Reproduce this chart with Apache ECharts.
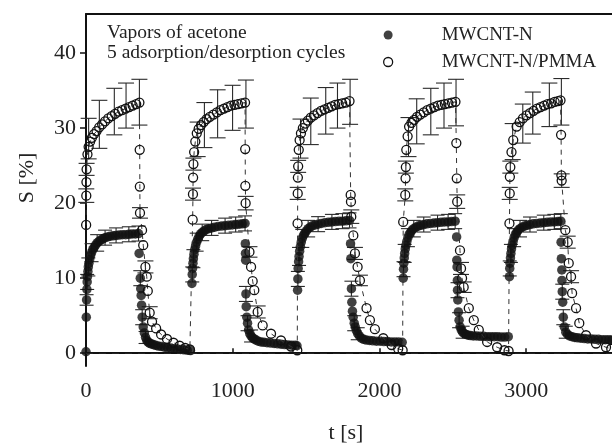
<!DOCTYPE html>
<html>
<head>
<meta charset="utf-8">
<script src="https://cdn.jsdelivr.net/npm/echarts@6/dist/echarts.min.js"></script>
<style>
  html, body { margin: 0; padding: 0; background: #fff; }
  #chart { width: 612px; height: 445px; }
</style>
</head>
<body>
<div id="chart"></div>
<script>
// MWCNT-N (filled circles), [t, S] per cycle
const solidC1 = [[0,0.2],[2,4.8],[4,7.1],[6,8.5],[8,9.5],[10,10.2],[13,10.9],[16,11.5],[20,12.0],[25,12.5],[31,13.0],[38,13.4],[46,13.8],[55,14.1],[65,14.4],[76,14.7],[88,14.9],[101,15.1],[115,15.25],[130,15.4],[147,15.5],[165,15.6],[185,15.65],[205,15.7],[226,15.75],[248,15.8],[270,15.8],[292,15.85],[314,15.9],[336,15.9],[358,15.95],
  [362,13.3],[370,10.0],[373,8.6],[376,7.7],[379,6.4],[383,4.8],[390,3.5],[398,2.7],[406,2.1],[414,1.7],[422,1.5],[432,1.35],[444,1.25],[458,1.15],[474,1.05],[492,0.95],[512,0.9],[534,0.8],[556,0.75],[578,0.7],[600,0.6],[622,0.55],[645,0.5],[668,0.45],[690,0.4],[712,0.35]];
const solidC2 = [[722,9.3],[724,10.5],[726,11.3],[729,12.0],[732,12.6],[736,13.2],[741,13.8],[747,14.3],[754,14.8],[762,15.2],[771,15.6],[781,15.9],[792,16.1],[805,16.3],[820,16.5],[837,16.6],[856,16.7],[877,16.8],[900,16.9],[924,16.95],[948,17.0],[972,17.05],[996,17.1],[1020,17.15],[1044,17.2],[1066,17.25],[1084,17.3],
  [1086,14.6],[1087,13.3],[1088,12.4],[1090,7.9],[1092,6.2],[1096,4.8],[1101,4.0],[1108,3.1],[1116,2.6],[1125,2.3],[1135,2.05],[1146,1.9],[1159,1.75],[1174,1.6],[1192,1.5],[1212,1.45],[1234,1.4],[1258,1.35],[1282,1.3],[1306,1.25],[1330,1.2],[1354,1.15],[1378,1.1],[1402,1.08],[1426,1.05],[1438,1.0]];
const solidC3 = [[1442,8.4],[1444,9.9],[1446,11.3],[1449,12.2],[1452,12.9],[1456,13.6],[1461,14.2],[1467,14.8],[1474,15.3],[1482,15.7],[1491,16.0],[1502,16.3],[1514,16.6],[1528,16.8],[1544,17.0],[1562,17.1],[1582,17.2],[1604,17.3],[1628,17.4],[1652,17.45],[1676,17.5],[1700,17.55],[1724,17.6],[1748,17.6],[1772,17.65],[1796,17.7],
  [1803,14.6],[1805,12.6],[1809,8.6],[1812,6.8],[1816,5.6],[1821,4.8],[1828,4.0],[1835,3.5],[1843,3.0],[1852,2.6],[1863,2.3],[1876,2.0],[1892,1.85],[1910,1.75],[1932,1.7],[1955,1.65],[1980,1.6],[2005,1.6],[2030,1.55],[2055,1.55],[2080,1.5],[2105,1.5],[2130,1.5],[2155,1.45]];
const solidC4 = [[2162,10.0],[2164,11.2],[2166,12.0],[2169,12.7],[2172,13.3],[2176,13.9],[2181,14.4],[2187,14.9],[2194,15.4],[2202,15.8],[2211,16.1],[2222,16.4],[2234,16.6],[2248,16.8],[2264,16.95],[2282,17.05],[2302,17.15],[2324,17.25],[2348,17.3],[2372,17.35],[2396,17.4],[2420,17.45],[2444,17.5],[2468,17.5],[2492,17.55],[2516,17.6],
  [2526,15.5],[2527,12.4],[2529,11.5],[2531,9.7],[2532,8.4],[2534,7.1],[2538,5.5],[2543,4.4],[2550,3.5],[2558,3.1],[2567,2.8],[2578,2.6],[2590,2.5],[2604,2.4],[2620,2.35],[2640,2.3],[2662,2.3],[2686,2.25],[2710,2.25],[2734,2.2],[2758,2.2],[2782,2.2],[2806,2.2],[2830,2.15],[2854,2.15],[2878,2.2]];
const solidC5 = [[2886,10.2],[2888,11.3],[2890,12.0],[2893,12.7],[2896,13.3],[2900,13.9],[2905,14.4],[2911,14.9],[2918,15.4],[2926,15.8],[2935,16.1],[2946,16.4],[2958,16.6],[2972,16.8],[2988,16.95],[3006,17.05],[3026,17.15],[3048,17.25],[3072,17.3],[3096,17.35],[3120,17.4],[3144,17.45],[3168,17.5],[3192,17.5],[3216,17.55],[3236,17.6],
  [3238,14.8],[3240,12.6],[3243,11.1],[3244,9.7],[3246,8.2],[3249,6.8],[3253,4.8],[3260,3.5],[3270,2.8],[3282,2.5],[3296,2.3],[3312,2.2],[3330,2.1],[3350,2.05],[3372,2.0],[3396,1.95],[3420,1.9],[3444,1.9],[3468,1.85],[3492,1.85],[3516,1.8],[3540,1.8],[3564,1.8],[3584,1.75]];

// MWCNT-N/PMMA (open circles), [t, S] per cycle
const openC1 = [[1,17.1],[2,21.0],[3,22.8],[4,24.5],[10,26.5],[18,27.5],[28,28.2],[40,28.7],[55,29.2],[72,29.6],[90,30.1],[110,30.5],[130,30.9],[152,31.3],[175,31.6],[198,31.9],[222,32.2],[246,32.4],[270,32.6],[294,32.8],[318,33.0],[342,33.2],[364,33.4],
  [366,27.1],[367,22.2],[368,18.7],[382,16.4],[390,14.4],[405,11.5],[414,10.2],[421,8.3],[434,5.4],[450,4.2],[478,3.3],[512,2.5],[552,1.9],[596,1.4],[638,1.0],[676,0.7],[708,0.5]];
const openC2 = [[727,17.8],[729,21.2],[730,23.4],[732,25.2],[737,26.8],[745,28.2],[755,29.3],[768,29.9],[784,30.4],[802,30.8],[822,31.2],[844,31.5],[868,31.8],[892,32.1],[916,32.4],[940,32.6],[964,32.8],[988,33.0],[1012,33.1],[1036,33.2],[1060,33.3],[1084,33.4],
  [1085,27.2],[1086,22.3],[1088,20.0],[1114,13.5],[1125,11.5],[1136,9.6],[1147,8.4],[1170,5.5],[1204,3.7],[1261,2.6],[1329,1.7],[1397,0.9],[1440,0.4]];
const openC3 = [[1442,17.3],[1443,21.3],[1444,23.4],[1446,24.9],[1450,27.1],[1456,28.4],[1465,29.3],[1478,30.0],[1494,30.6],[1512,31.0],[1532,31.4],[1554,31.7],[1578,32.0],[1602,32.3],[1626,32.5],[1650,32.7],[1674,32.9],[1698,33.1],[1722,33.2],[1746,33.3],[1770,33.4],[1796,33.6],
  [1804,21.1],[1806,20.2],[1808,18.2],[1822,15.7],[1833,13.3],[1851,11.5],[1867,9.7],[1912,6.0],[1935,4.4],[1969,3.2],[2026,2.0],[2083,1.1],[2128,0.6],[2158,0.4]];
const openC4 = [[2162,17.5],[2176,21.1],[2178,23.3],[2180,24.8],[2183,27.1],[2192,28.9],[2202,30.2],[2218,30.7],[2236,31.1],[2256,31.5],[2278,31.8],[2302,32.1],[2326,32.4],[2350,32.6],[2374,32.8],[2398,33.0],[2422,33.1],[2446,33.2],[2470,33.3],[2494,33.4],[2518,33.5],
  [2524,28.0],[2527,23.3],[2530,20.2],[2549,13.7],[2556,11.3],[2563,10.0],[2574,8.8],[2609,6.0],[2643,4.4],[2677,3.1],[2734,1.5],[2802,0.8],[2852,0.4],[2880,0.3]];
const openC5 = [[2886,17.3],[2888,21.3],[2889,23.5],[2892,24.8],[2900,26.8],[2912,28.4],[2935,30.2],[2956,30.8],[2978,31.3],[3002,31.7],[3026,32.0],[3050,32.3],[3074,32.6],[3098,32.8],[3122,33.0],[3146,33.2],[3170,33.3],[3194,33.5],[3216,33.6],[3234,33.7],
  [3238,29.1],[3240,23.7],[3242,23.0],[3267,16.4],[3283,14.8],[3290,12.0],[3306,10.2],[3313,8.0],[3340,6.0],[3362,4.0],[3408,2.4],[3476,1.3],[3544,0.8],[3580,0.6]];

// error bars [t, S, half-width]
const errSolid = [[4,7.1,0.7],[8,9.5,1.0],[16,11.5,1.2],[38,13.4,1.2],[76,14.7,1.1],[130,15.4,1.0],[205,15.7,1.0],[292,15.85,1.0],[358,15.95,1.0],[370,10.0,1.0],[383,4.8,1.0],[406,2.1,0.8],
  [724,10.5,1.0],[732,12.6,1.2],[754,14.8,1.2],[792,16.1,1.1],[856,16.7,1.0],[948,17.0,1.0],[1020,17.15,1.0],[1084,17.3,1.0],[1090,7.9,1.0],[1101,4.0,1.0],[1125,2.3,0.8],
  [1444,9.9,1.0],[1452,12.9,1.2],[1474,15.3,1.2],[1514,16.6,1.1],[1582,17.2,1.0],[1676,17.5,1.0],[1748,17.6,1.0],[1796,17.7,1.0],[1809,8.6,1.0],[1828,4.0,1.0],[1852,2.6,0.8],
  [2164,11.2,1.0],[2172,13.3,1.2],[2194,15.4,1.2],[2234,16.6,1.1],[2302,17.15,1.0],[2396,17.4,1.0],[2468,17.5,1.0],[2516,17.6,1.0],[2532,8.4,1.0],[2543,4.4,1.0],[2567,2.8,0.8],
  [2888,11.3,1.0],[2896,13.3,1.2],[2918,15.4,1.2],[2958,16.6,1.1],[3026,17.15,1.0],[3120,17.4,1.0],[3192,17.5,1.0],[3236,17.6,1.0],[3246,8.2,1.0],[3253,4.8,1.0],[3270,2.8,0.8]];
const errOpen = [[2,21.0,0.9],[4,24.5,0.8],[18,28.6,2.7],[91,30.5,3.2],[193,32.2,3.1],[273,33.0,3.0],[364,33.45,3.05],[368,18.7,0.7],[405,11.5,0.8],[434,5.4,0.8],
  [729,21.2,0.8],[732,25.2,0.8],[761,28.5,2.3],[807,30.4,3.0],[897,31.9,3.2],[999,32.7,3.0],[1090,33.2,3.2],[1088,20.0,0.9],[1114,13.5,0.7],[1170,5.5,0.8],
  [1443,21.3,0.8],[1446,24.9,0.8],[1462,28.6,2.6],[1532,30.9,3.1],[1634,32.3,3.1],[1714,33.0,3.0],[1800,33.5,3.0],[1808,18.2,0.9],[1833,13.3,0.8],[1867,9.7,0.7],
  [2176,21.1,0.8],[2180,24.8,0.8],[2198,28.8,2.6],[2254,30.9,3.0],[2350,32.2,3.1],[2440,33.0,3.0],[2522,33.4,3.1],[2530,20.2,0.9],[2556,11.3,0.8],[2574,8.8,0.7],
  [2888,21.3,0.8],[2892,24.8,0.8],[2908,28.2,2.4],[2977,30.6,2.6],[3045,32.0,2.8],[3158,33.1,2.9],[3240,33.5,3.1],[3242,23.0,0.9],[3283,14.8,0.8],[3306,10.2,0.8]];

const xTicks = [0, 1000, 2000, 3000];
const yTicks = [0, 10, 20, 30, 40];

const serif = "'Liberation Serif', 'Times New Roman', serif";
const ink = '#111';

const chart = echarts.init(document.getElementById('chart'), null, { renderer: 'canvas' });

function errorBar(capHalf) {
  return function (params, api) {
    const x = api.value(0), y = api.value(1), e = api.value(2);
    const hi = api.coord([x, y + e]);
    const lo = api.coord([x, y - e]);
    const st = { stroke: '#2a2a2a', lineWidth: 1.1 };
    return {
      type: 'group',
      children: [
        { type: 'line', shape: { x1: hi[0], y1: hi[1], x2: lo[0], y2: lo[1] }, style: st },
        { type: 'line', shape: { x1: hi[0] - capHalf, y1: hi[1], x2: hi[0] + capHalf, y2: hi[1] }, style: st },
        { type: 'line', shape: { x1: lo[0] - capHalf, y1: lo[1], x2: lo[0] + capHalf, y2: lo[1] }, style: st }
      ]
    };
  };
}

const option = {
  animation: false,
  backgroundColor: '#fff',
  grid: { left: 86, right: 0, top: 14, bottom: 79, containLabel: false, outerBoundsMode: 'none' },
  legend: {
    orient: 'vertical',
    left: 383,
    top: 25,
    padding: 0,
    itemGap: 7,
    itemWidth: 9,
    itemHeight: 9,
    selectedMode: false,
    textStyle: { fontFamily: serif, fontSize: 19, color: '#222', lineHeight: 20, padding: [0, 0, 0, 44] },
    data: [
      { name: 'MWCNT-N', icon: 'circle', itemStyle: { color: ink } },
      { name: 'MWCNT-N/PMMA', icon: 'circle', itemStyle: { color: 'rgba(0,0,0,0)', borderColor: ink, borderWidth: 1.3 } }
    ]
  },
  xAxis: [{
    type: 'value', min: 0, max: 3585,
    axisLine: { show: true, lineStyle: { color: ink, width: 2 } },
    axisTick: { show: true, inside: true, length: 5, customValues: xTicks, lineStyle: { color: ink, width: 1.5 } },
    axisLabel: { customValues: xTicks, margin: 14, fontFamily: serif, fontSize: 22, color: '#222', formatter: (v) => String(v) },
    splitLine: { show: false }
  }, {
    type: 'value', position: 'top', min: 0, max: 3585,
    axisLine: { show: true, lineStyle: { color: ink, width: 2 } },
    axisTick: { show: false }, axisLabel: { show: false }, splitLine: { show: false }
  }],
  yAxis: {
    type: 'value', min: -1.7, max: 45.2,
    axisLine: { show: true, lineStyle: { color: ink, width: 2 } },
    axisTick: { show: true, length: 6, customValues: yTicks, lineStyle: { color: ink, width: 1.5 } },
    axisLabel: { customValues: yTicks, margin: 10, fontFamily: serif, fontSize: 22, color: '#222' },
    splitLine: { show: false }
  },
  graphic: [
    { type: 'text', left: 107, top: 23, style: { text: 'Vapors of acetone\n5 adsorption/desorption cycles', font: '19.5px ' + serif, fill: '#222', lineHeight: 20 } },
    { type: 'text', x: 27, y: 178, rotation: Math.PI / 2, style: { text: 'S [%]', font: '22px ' + serif, fill: '#222', align: 'center', verticalAlign: 'middle' } },
    { type: 'text', x: 346, y: 433, style: { text: 't [s]', font: '22px ' + serif, fill: '#222', align: 'center', verticalAlign: 'middle' } }
  ],
  series: [
    {
      name: 'MWCNT-N',
      type: 'scatter',
      symbol: 'circle',
      symbolSize: 9.5,
      itemStyle: { color: ink },
      data: [].concat(solidC1, solidC2, solidC3, solidC4, solidC5),
      z: 3,
      markLine: {
        silent: true,
        symbol: ['none', 'none'],
        label: { show: false },
        lineStyle: { color: '#222', width: 1.2, type: [7, 6] },
        data: [{ yAxis: 0 }]
      }
    },
    {
      type: 'custom',
      renderItem: errorBar(7),
      encode: { x: 0, y: 1 },
      data: errSolid,
      z: 2
    },
    {
      type: 'custom',
      renderItem: errorBar(8),
      encode: { x: 0, y: 1 },
      data: errOpen,
      z: 2
    },
    {
      name: 'MWCNT-N/PMMA',
      type: 'line',
      symbol: 'circle',
      symbolSize: 9,
      showAllSymbol: true,
      itemStyle: { color: 'rgba(0,0,0,0)', borderColor: ink, borderWidth: 1.3 },
      lineStyle: { color: '#333', width: 1, type: [5, 5] },
      data: [].concat(openC1, openC2, openC3, openC4, openC5),
      z: 4
    }
  ]
};

chart.setOption(option);
</script>
</body>
</html>
